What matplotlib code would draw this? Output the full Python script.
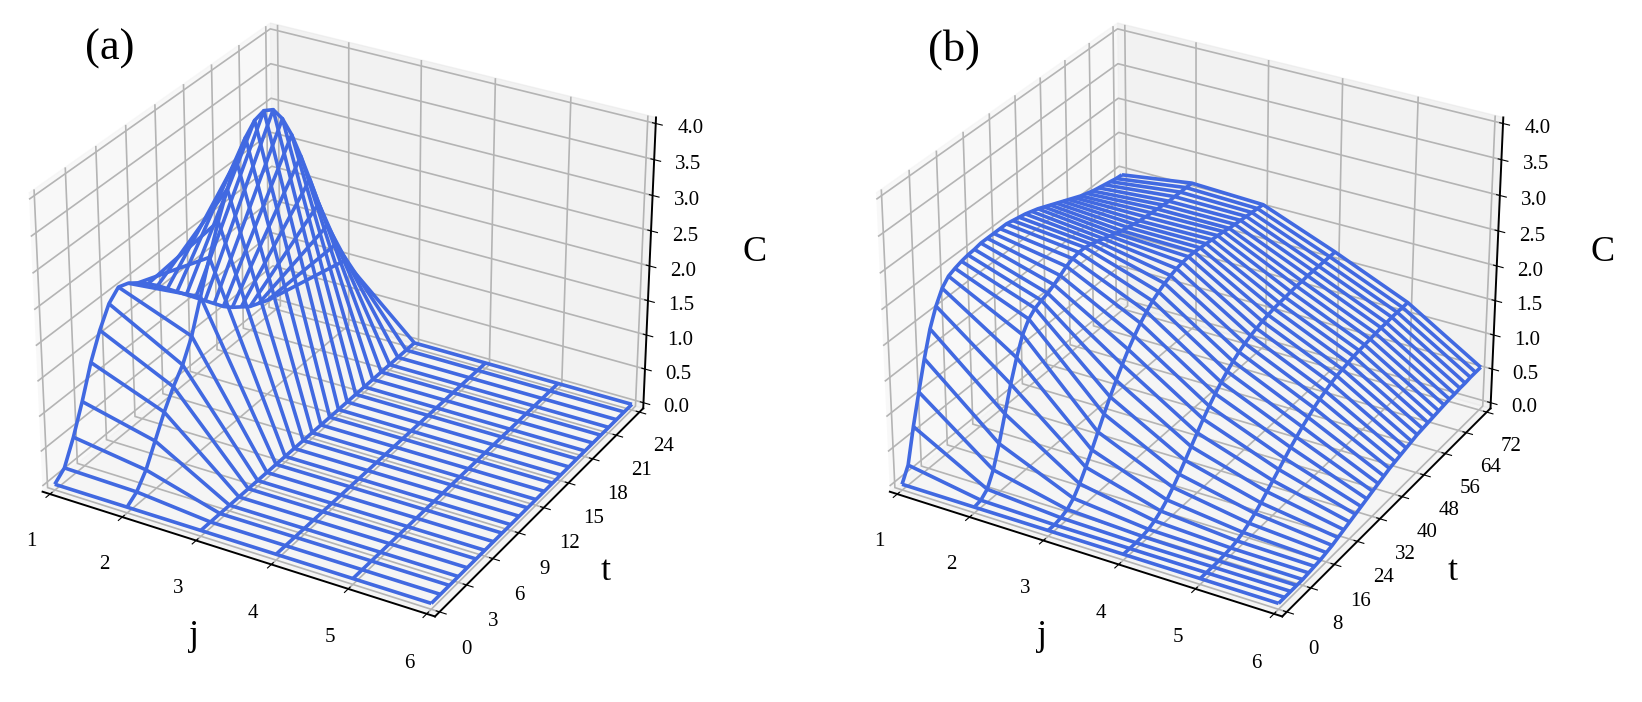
import numpy as np
import matplotlib
matplotlib.use('Agg')
from matplotlib import pyplot as plt

plt.rcParams['font.family'] = ['Liberation Serif', 'DejaVu Serif']
plt.rcParams['axes3d.automargin'] = True
plt.rcParams['grid.linewidth'] = 1.2
plt.rcParams['grid.color'] = '#b4b4b4'

# compartment index
j_vals = [1, 2, 3, 4, 5, 6]

# panel (a): t = 0..24
t_a = list(range(0, 25))
c_a_j1 = [0.0, 0.12, 0.45, 0.85, 1.30, 1.65, 1.92, 2.05, 2.00, 1.90, 1.78, 1.65, 1.50,
          1.35, 1.20, 1.05, 0.90, 0.75, 0.60, 0.48, 0.38, 0.28, 0.22, 0.16, 0.12]
c_a_j2 = [0.0, 0.10, 0.30, 0.60, 0.90, 1.15, 1.35, 1.65, 2.10, 2.55, 2.95, 3.30, 3.60,
          3.82, 3.96, 4.00, 3.92, 3.70, 3.38, 2.98, 2.55, 2.10, 1.68, 1.30, 0.95]
c_a_rest = [0.0] * 25

# panel (b): t = 0..72 step 2
t_b = list(range(0, 73, 2))
c_b_j1 = [0.0, 0.20, 0.68, 1.10, 1.50, 1.85, 2.10, 2.28, 2.38, 2.42, 2.45, 2.47, 2.48,
          2.50, 2.50, 2.50, 2.50, 2.50, 2.48, 2.46, 2.44, 2.41, 2.38, 2.34, 2.30, 2.26,
          2.22, 2.18, 2.14, 2.10, 2.07, 2.04, 2.02, 2.00, 1.98, 1.96, 1.95]
c_b_j2 = [0.0, 0.02, 0.10, 0.30, 0.60, 0.95, 1.30, 1.60, 1.85, 2.00, 2.08, 2.12, 2.15,
          2.20, 2.26, 2.32, 2.36, 2.38, 2.38, 2.36, 2.33, 2.30, 2.27, 2.24, 2.21, 2.19,
          2.17, 2.15, 2.14, 2.13, 2.12, 2.11, 2.10, 2.10, 2.10, 2.10, 2.10]
c_b_j3 = [0.0, 0.0, 0.02, 0.06, 0.14, 0.27, 0.43, 0.60, 0.78, 0.96, 1.13, 1.29, 1.44,
          1.58, 1.70, 1.81, 1.90, 1.98, 2.04, 2.09, 2.13, 2.16, 2.18, 2.19, 2.19, 2.18,
          2.17, 2.16, 2.15, 2.14, 2.12, 2.11, 2.10, 2.09, 2.08, 2.07, 2.06]
c_b_j4 = [0.0, 0.0, 0.0, 0.01, 0.03, 0.07, 0.13, 0.21, 0.31, 0.42, 0.54, 0.66, 0.78,
          0.90, 1.01, 1.11, 1.20, 1.28, 1.35, 1.41, 1.46, 1.50, 1.53, 1.56, 1.58, 1.60,
          1.61, 1.62, 1.63, 1.64, 1.64, 1.65, 1.65, 1.65, 1.65, 1.65, 1.65]
c_b_j5 = [0.0, 0.0, 0.0, 0.0, 0.01, 0.02, 0.04, 0.08, 0.13, 0.19, 0.26, 0.34, 0.42,
          0.50, 0.58, 0.66, 0.73, 0.80, 0.86, 0.92, 0.97, 1.01, 1.05, 1.08, 1.10, 1.12,
          1.14, 1.15, 1.16, 1.17, 1.18, 1.19, 1.19, 1.20, 1.20, 1.20, 1.20]
c_b_j6 = [0.0, 0.0, 0.0, 0.0, 0.0, 0.01, 0.02, 0.03, 0.05, 0.07, 0.10, 0.13, 0.16,
          0.19, 0.22, 0.25, 0.28, 0.31, 0.34, 0.37, 0.39, 0.41, 0.43, 0.45, 0.47, 0.48,
          0.49, 0.50, 0.51, 0.52, 0.53, 0.53, 0.54, 0.54, 0.55, 0.55, 0.55]

c_a = [c_a_j1, c_a_j2, c_a_rest, c_a_rest, c_a_rest, c_a_rest]
c_b = [c_b_j1, c_b_j2, c_b_j3, c_b_j4, c_b_j5, c_b_j6]


def draw_panel(ax, t_vals, c_rows, t_ticks):
    J, T = np.meshgrid(j_vals, t_vals, indexing='ij')
    C = np.array(c_rows)
    ax.plot_wireframe(J, T, C, rstride=1, cstride=1, color='royalblue', linewidth=2.6)
    ax.view_init(elev=29, azim=-60)

    # C axis on the right hand side
    ax.zaxis.set_ticks_position('upper')
    ax.zaxis.set_label_position('upper')

    ax.set_xlim(1, 6)
    ax.set_ylim(t_vals[0], t_vals[-1])
    ax.set_zlim(0, 4)
    ax.set_xticks(j_vals)
    ax.set_yticks(t_ticks)
    ax.set_zticks(np.arange(0, 4.01, 0.5))
    ax.tick_params(labelsize=15, width=1.3, length=6)
    ax.tick_params(axis='x', pad=12)
    ax.tick_params(axis='y', pad=9)
    ax.tick_params(axis='z', pad=7)
    for axis in (ax.xaxis, ax.yaxis, ax.zaxis):
        axis.line.set_linewidth(1.4)
    ax.set_xlabel('j', fontsize=26, labelpad=22)
    ax.set_ylabel('t', fontsize=26, labelpad=20)
    ax.set_zlabel('C', fontsize=26, labelpad=26)


fig = plt.figure(figsize=(16.42, 7.02), dpi=100)
ax1 = fig.add_axes([-0.006, 0.052, 0.425, 1.0], projection='3d')
ax2 = fig.add_axes([0.51, 0.052, 0.425, 1.0], projection='3d')

draw_panel(ax1, t_a, c_a, list(range(0, 25, 3)))
draw_panel(ax2, t_b, c_b, list(range(0, 73, 8)))

fig.text(0.052, 0.93, '(a)', fontsize=32, va='center')
fig.text(0.565, 0.93, '(b)', fontsize=32, va='center')

fig.savefig('out.png', dpi=100, facecolor='white')
